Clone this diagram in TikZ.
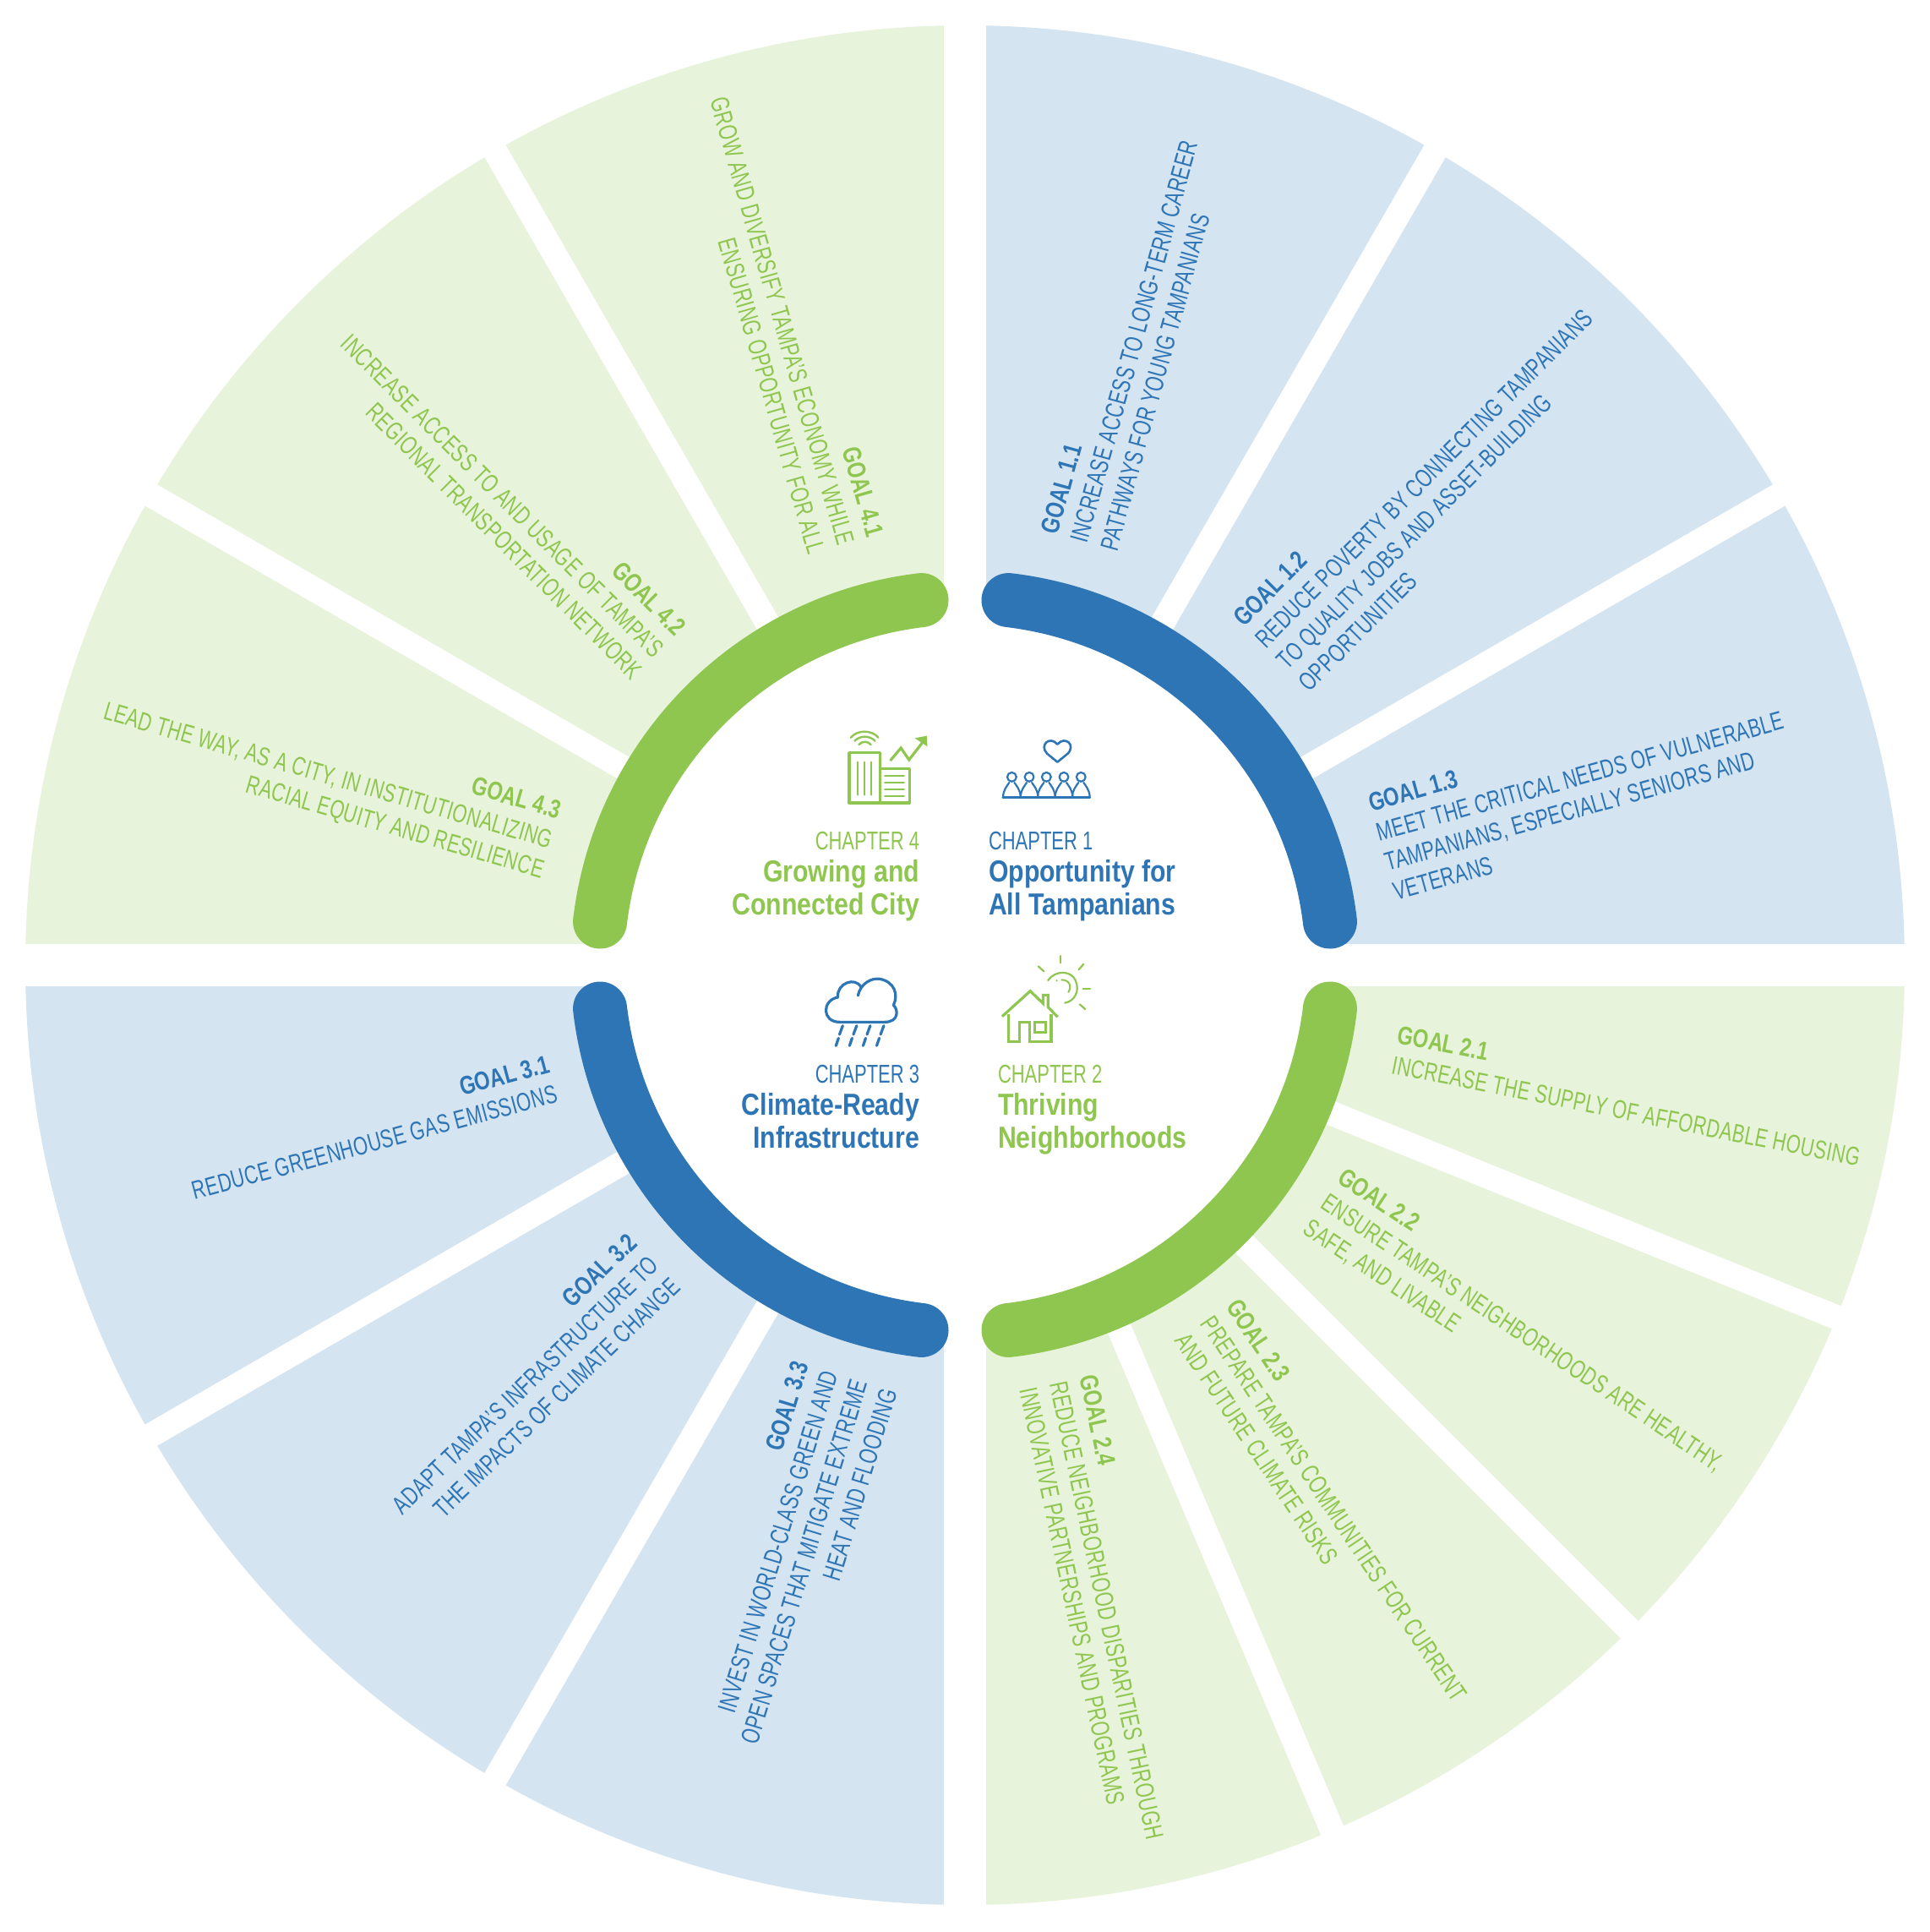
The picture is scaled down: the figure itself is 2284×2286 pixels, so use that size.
\documentclass[tikz,border=0pt]{standalone}
\usepackage{fontspec}
\setmainfont{Liberation Sans}
\newfontfamily\goalreg[FakeStretch=0.72,LetterSpace=1.2]{Liberation Sans}
\newfontfamily\goalbold[FakeStretch=0.78]{Liberation Sans}
\newfontfamily\chapreg[FakeStretch=0.72]{Liberation Sans}
\newfontfamily\chapbold[FakeStretch=0.84]{Liberation Sans}
\definecolor{cblue}{HTML}{2E75B6}
\definecolor{cgreen}{HTML}{8FC64F}
\definecolor{lblue}{HTML}{D5E4F1}
\definecolor{lgreen}{HTML}{E8F3DC}
\tikzset{
  quadgap/.style={white,line width=25pt,line cap=butt},
  sectgap/.style={white,line width=14.5pt,line cap=butt},
  ringarc/.style={line width=32pt,line cap=round},
  txt/.style={inner sep=0pt,outer sep=0pt},
  icon/.style={line width=1.6pt,line cap=round,line join=round},
  iconthin/.style={line width=0.9pt,line cap=round},
}
% name, x, y, rotation, colour, anchor side (west/east), column (l/r), goal label, lines
\newcommand{\goalnode}[9]{%
  \node[txt,anchor=base #6,rotate=#4,text=#5] (#1) at (#2,#3) {%
    \fontsize{15.25}{18.25}\goalreg\selectfont
    \begin{tabular}[t]{@{}#7@{}}{\goalbold\bfseries #8}\\#9\end{tabular}};}
% name, x, y, anchor side, colour, column, chapter, title line 1, title line 2
\newcommand{\chapnode}[9]{%
  \node[txt,anchor=base #4,text=#5] (#1) at (#2,#3) {%
    \fontsize{15.25}{19.25}\selectfont
    \begin{tabular}[t]{@{}#6@{}}{\chapreg #7}\\
      {\chapbold\bfseries\fontsize{18}{19.25}\selectfont #8}\\
      {\chapbold\bfseries\fontsize{18}{19.25}\selectfont #9}\end{tabular}};}
\begin{document}
\begin{tikzpicture}[x=0.5pt,y=-0.5pt]
\useasboundingbox (0,0) rectangle (2284,2286);
\fill[white] (0,0) rectangle (2284,2286);
\begin{scope}[shift={(1142,1142)},x=0.5pt,y=0.5pt]
  \fill[lblue]  (0,0) -- (0:556pt) arc[start angle=0,end angle=90,radius=556pt] -- cycle;
  \fill[lgreen] (0,0) -- (270:556pt) arc[start angle=270,end angle=360,radius=556pt] -- cycle;
  \fill[lblue]  (0,0) -- (180:556pt) arc[start angle=180,end angle=270,radius=556pt] -- cycle;
  \fill[lgreen] (0,0) -- (90:556pt) arc[start angle=90,end angle=180,radius=556pt] -- cycle;
  \foreach \a in {0,90,180,270}
    \draw[quadgap] (0,0) -- (\a:570pt);
  \foreach \a in {30,60,120,150,210,240,293,315,338}
    \draw[sectgap] (0,0) -- (\a:570pt);
  \fill[white] (0,0) circle[radius=218pt];
  \draw[ringarc,cblue]  (6.8:217.5pt) arc[start angle=6.8,end angle=83.2,radius=217.5pt];
  \draw[ringarc,cgreen] (-6.8:217.5pt) arc[start angle=-6.8,end angle=-83.2,radius=217.5pt];
  \draw[ringarc,cblue]  (186.8:217.5pt) arc[start angle=186.8,end angle=263.2,radius=217.5pt];
  \draw[ringarc,cgreen] (173.2:217.5pt) arc[start angle=173.2,end angle=96.8,radius=217.5pt];
\end{scope}
% icons, upper pair
\begin{scope}[shift={(850,820)},x=0.1913pt,y=-0.16667pt]
  \draw[icon,draw=cgreen] (405,212) rectangle (500,390);
  \draw[icon,draw=cgreen] (500,268) -- (592,268) -- (592,390) -- (500,390);
  \foreach \xx in {432,453,474} \draw[iconthin,draw=cgreen] (\xx,245) -- (\xx,362);
  \foreach \yy in {293,317,342,367} \draw[iconthin,draw=cgreen] (515,\yy) -- (575,\yy);
  \draw[icon,draw=cgreen,line cap=butt,line join=miter] (532,240) -- (565,195) -- (590,237) -- (632,175);
  \fill[cgreen] (608,160) -- (645,152) -- (647,190) -- cycle;
  \draw[iconthin,draw=cgreen,line width=1.2pt] (410,158) .. controls (430,130) and (475,130) .. (495,158);
  \draw[iconthin,draw=cgreen,line width=1.2pt] (422,170) .. controls (438,150) and (468,150) .. (485,170);
  \draw[iconthin,draw=cgreen,line width=1.2pt] (435,183) .. controls (445,170) and (462,170) .. (472,183);
  \draw[icon,draw=cblue,line width=1.3pt] (1049,245) -- (1017,215) .. controls (992,185) and (1025,150) .. (1049,182) .. controls (1073,150) and (1107,185) .. (1081,215) -- cycle;
  \foreach \xx in {908,962,1015,1069,1122}{
    \draw[icon,draw=cblue,line width=1.1pt] (\xx,298) circle[radius=2.7pt];
    \draw[icon,draw=cblue,line width=1.1pt] (\xx-27,370) .. controls (\xx-27,345) and (\xx-15,330) .. (\xx-8,318);
    \draw[icon,draw=cblue,line width=1.1pt] (\xx+27,370) .. controls (\xx+27,345) and (\xx+15,330) .. (\xx+8,318);
  }
  \draw[icon,draw=cblue,line width=1.2pt] (880,371) -- (1150,371);
\end{scope}
% icons, lower pair
\begin{scope}[shift={(850,1120)},x=0.1913pt,y=-0.16667pt]
  \draw[icon,draw=cblue] (432,174) .. controls (440,130) and (475,110) .. (500,115) .. controls (545,125) and (558,170) .. (542,208) .. controls (558,225) and (558,268) .. (515,268) -- (375,268) .. controls (320,268) and (320,190) .. (370,180) .. controls (365,130) and (425,105) .. (442,145);
  \foreach \xx in {385,428,470,512} \draw[icon,draw=cblue] (\xx,281) -- (\xx-10,312);
  \foreach \xx in {372,414,456,498} \draw[icon,draw=cblue] (\xx,325) -- (\xx-8,352);
  \draw[icon,draw=cgreen,line cap=butt,line join=miter] (878,248) -- (965,158) -- (1005,202) -- (1005,172) -- (1020,172) -- (1020,215) -- (1050,250);
  \draw[icon,draw=cgreen,line cap=butt,line join=miter] (898,240) -- (898,338) -- (932,338) -- (932,268) -- (963,268) -- (963,338) -- (1030,338) -- (1030,240);
  \draw[icon,draw=cgreen,line cap=butt,line join=miter] (978,268) rectangle (1012,305);
  \draw[iconthin,draw=cgreen,line width=1.1pt] (1020,120) .. controls (1040,85) and (1090,82) .. (1105,120) .. controls (1120,160) and (1100,195) .. (1072,200);
  \draw[iconthin,draw=cgreen,line width=1pt] (1062,118) .. controls (1085,118) and (1095,140) .. (1083,162);
  \fill[cgreen] (1047,121) circle[radius=0.6pt];
  \foreach \xa/\ya/\xb/\yb in {1058/33/1058/58,1130/62/1115/82,990/70/1007/88,1128/150/1150/150,1118/205/1135/222}
    \draw[iconthin,draw=cgreen,line width=1.1pt] (\xa,\ya) -- (\xb,\yb);
\end{scope}
% chapter labels
\chapnode{ch1}{1170}{1005}{west}{cblue}{l}{CHAPTER 1}{Opportunity for}{All Tampanians}
\chapnode{ch4}{1088}{1005}{east}{cgreen}{r}{CHAPTER 4}{Growing and}{Connected City}
\chapnode{ch2}{1181}{1281}{west}{cgreen}{l}{CHAPTER 2}{Thriving}{Neighborhoods}
\chapnode{ch3}{1088}{1281}{east}{cblue}{r}{CHAPTER 3}{Climate-Ready}{Infrastructure}
% goals
\goalnode{g11}{1251.7}{633.5}{74.5}{cblue}{west}{l}{GOAL 1.1}{INCREASE ACCESS TO LONG-TERM CAREER\\PATHWAYS FOR YOUNG TAMPANIANS}
\goalnode{g12}{1472.2}{742.2}{45}{cblue}{west}{l}{GOAL 1.2}{REDUCE POVERTY BY CONNECTING TAMPANIANS\\TO QUALITY JOBS AND ASSET-BUILDING\\OPPORTUNITIES}
\goalnode{g13}{1623}{960}{15.5}{cblue}{west}{l}{GOAL 1.3}{MEET THE CRITICAL NEEDS OF VULNERABLE\\TAMPANIANS, ESPECIALLY SENIORS AND\\VETERANS}
\goalnode{g21}{1652.8}{1234.2}{-11.25}{cgreen}{west}{l}{GOAL 2.1}{INCREASE THE SUPPLY OF AFFORDABLE HOUSING}
\goalnode{g22}{1581.3}{1398}{-33.75}{cgreen}{west}{l}{GOAL 2.2}{ENSURE TAMPA’S NEIGHBORHOODS ARE HEALTHY,\\SAFE, AND LIVABLE}
\goalnode{g23}{1450.3}{1546.4}{-56.25}{cgreen}{west}{l}{GOAL 2.3}{PREPARE TAMPA’S COMMUNITIES FOR CURRENT\\AND FUTURE CLIMATE RISKS}
\goalnode{g24}{1277.5}{1629.6}{-78}{cgreen}{west}{l}{GOAL 2.4}{REDUCE NEIGHBORHOOD DISPARITIES THROUGH\\INNOVATIVE PARTNERSHIPS AND PROGRAMS}
\goalnode{g31}{651.8}{1268.7}{15}{cblue}{east}{r}{GOAL 3.1}{REDUCE GREENHOUSE GAS EMISSIONS}
\goalnode{g32}{755.9}{1472.9}{44}{cblue}{east}{r}{GOAL 3.2}{ADAPT TAMPA’S INFRASTRUCTURE TO\\THE IMPACTS OF CLIMATE CHANGE}
\goalnode{g33}{957.4}{1615.3}{73}{cblue}{east}{r}{GOAL 3.3}{INVEST IN WORLD-CLASS GREEN AND\\OPEN SPACES THAT MITIGATE EXTREME\\HEAT AND FLOODING}
\goalnode{g41}{1026.6}{636.8}{-74}{cgreen}{east}{r}{GOAL 4.1}{GROW AND DIVERSIFY TAMPA’S ECONOMY WHILE\\ENSURING OPPORTUNITY FOR ALL}
\goalnode{g42}{798.8}{754.2}{-45}{cgreen}{east}{r}{GOAL 4.2}{INCREASE ACCESS TO AND USAGE OF TAMPA’S\\REGIONAL TRANSPORTATION NETWORK}
\goalnode{g43}{660.5}{969}{-16.2}{cgreen}{east}{r}{GOAL 4.3}{LEAD THE WAY, AS A CITY, IN INSTITUTIONALIZING\\RACIAL EQUITY AND RESILIENCE}
\end{tikzpicture}
\end{document}
